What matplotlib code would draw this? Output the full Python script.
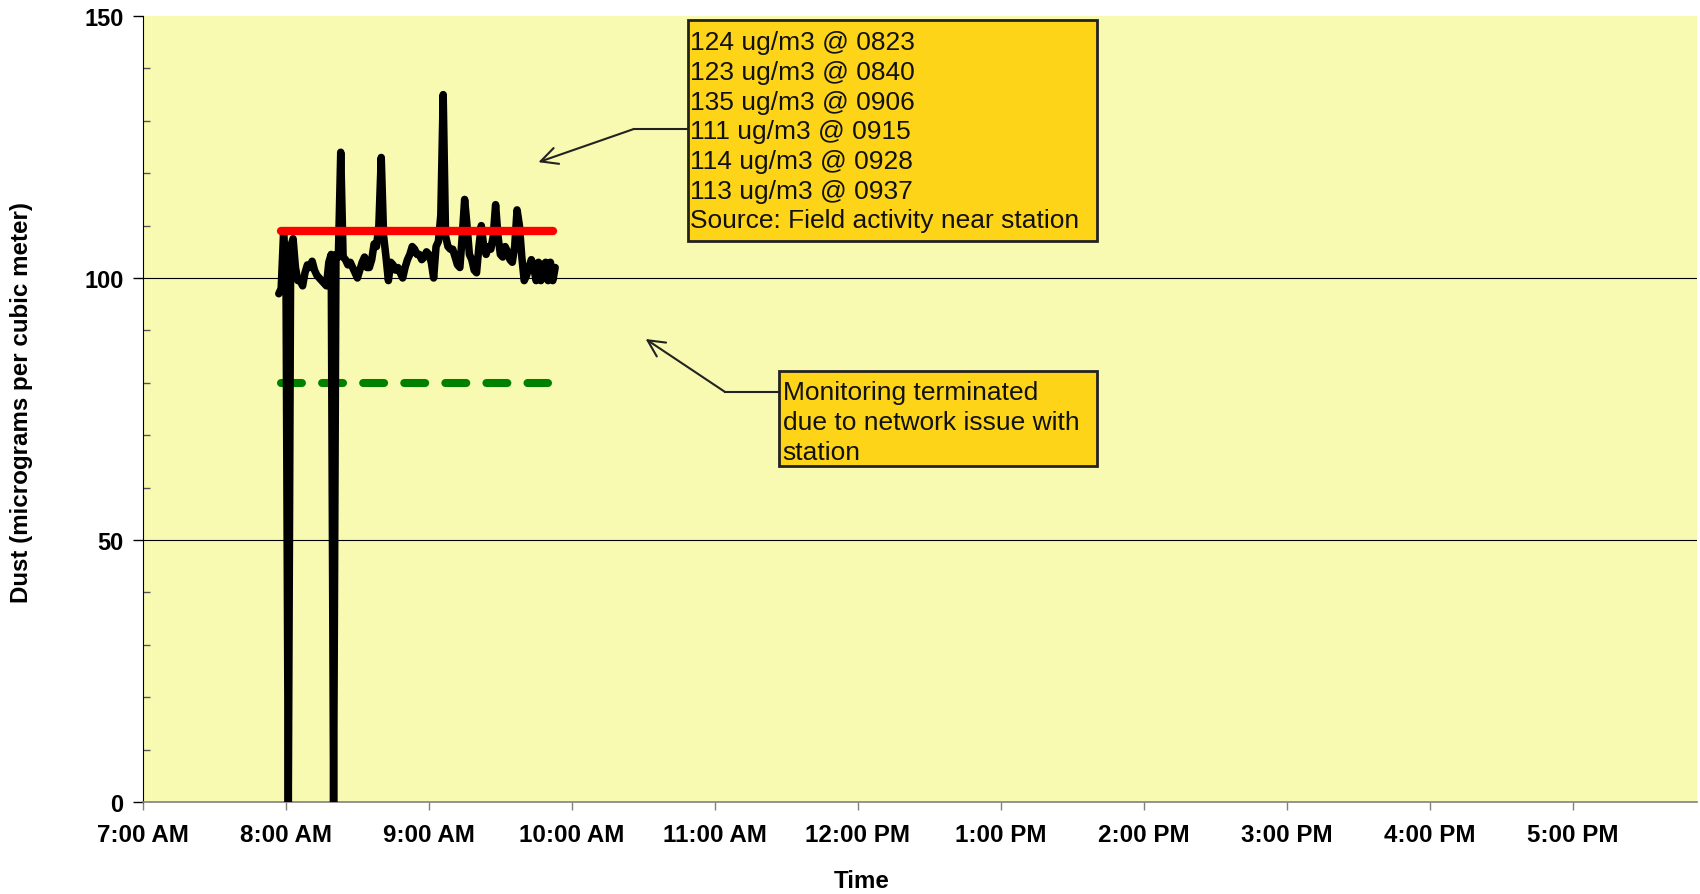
import numpy as np
import pandas as pd
import matplotlib
matplotlib.use('Agg')
from matplotlib import pyplot as plt
from matplotlib.patches import Rectangle

plt.rcParams['font.family'] = ['Liberation Sans', 'DejaVu Sans']

# one-minute dust readings, starting at 7:57 AM
start_time = '07:57'
dust = [97, 98, 108.5, 103, 0, 106, 107.5, 102, 99.5, 99.5,
        98.5, 101, 102.5, 102, 103.2, 101.5, 100.5, 100, 99.5, 99,
        98.5, 103, 104.5, 0, 104.5, 104, 124, 104, 103.5, 102.5,
        103, 102, 101, 100, 101.5, 103, 104, 102, 102, 103.5,
        106.5, 106, 110, 123, 108, 104, 99.5, 103, 102.5, 101.5,
        102, 101, 100, 102, 103.5, 104.5, 106, 105.5, 104.5, 104.5,
        103.5, 104, 105, 104.5, 103, 100, 106, 107, 112, 135,
        108, 106, 105.5, 105.5, 104, 102.5, 102, 108, 115, 110,
        104.5, 103.5, 101.5, 101, 106, 110, 106, 104.5, 106, 105.5,
        108, 114, 108, 104.5, 104, 106, 105, 103.5, 103, 106,
        113, 110, 104, 99.5, 100.5, 102, 103.5, 102, 99.5, 103,
        99.5, 102.5, 103, 99.5, 103, 99.5, 102]

# reference levels (value, start, end)
red_level = 109
red_span = ['07:58', '09:52']
green_level = 80
green_span = ['07:58', '09:50']

tick_hours = [7, 8, 9, 10, 11, 12, 13, 14, 15, 16, 17]
tick_labels = ['7:00 AM', '8:00 AM', '9:00 AM', '10:00 AM', '11:00 AM', '12:00 PM',
               '1:00 PM', '2:00 PM', '3:00 PM', '4:00 PM', '5:00 PM']

note1 = ('124 ug/m3 @ 0823\n123 ug/m3 @ 0840\n135 ug/m3 @ 0906\n'
         '111 ug/m3 @ 0915\n114 ug/m3 @ 0928\n113 ug/m3 @ 0937\n'
         'Source: Field activity near station')
note2 = 'Monitoring terminated\ndue to network issue with\nstation'


def to_hours(t):
    t = pd.to_datetime(t, format='%H:%M')
    return t.hour + t.minute / 60


times = pd.date_range('2000-01-01 ' + start_time, periods=len(dust), freq='min')
hours = times.hour + times.minute / 60

fig = plt.figure(figsize=(17, 8.95), dpi=100)
ax = fig.add_axes([0.0841, 0.1028, 0.9141, 0.8782])
ax.set_facecolor('#F8FAB2')

ax.set_xlim(7, 17.87)
ax.set_ylim(0, 150)

ax.axhline(50, color='black', lw=0.8, zorder=1)
ax.axhline(100, color='black', lw=0.8, zorder=1)

ax.plot(hours, dust, color='black', lw=5.4, solid_joinstyle='round',
        solid_capstyle='round', zorder=3)
ax.plot([to_hours(t) for t in red_span], [red_level] * 2, color='#FF0000', lw=6,
        solid_capstyle='round', zorder=4)
ax.plot([to_hours(t) for t in green_span], [green_level] * 2, color='#008000', lw=5.8,
        dashes=(2.6, 2.5), dash_capstyle='round', zorder=2)

# annotation boxes
box_color = '#FDD418'
edge = '#222222'
ax.add_patch(Rectangle((10.809, 107.12), 2.865, 42.12, facecolor=box_color,
                       edgecolor=edge, lw=2, zorder=5))
ax.text(10.828, 147.3, note1, fontsize=19, va='top', ha='left',
        linespacing=1.30, color='#111111', zorder=6)
ax.plot([10.809, 10.434], [128.44, 128.44], color=edge, lw=1.5, zorder=5)
ax.annotate('', xy=(9.766, 122.1), xytext=(10.434, 128.44),
            arrowprops=dict(arrowstyle='->', color=edge, lw=1.5,
                            mutation_scale=30, shrinkA=0, shrinkB=0), zorder=5)

ax.add_patch(Rectangle((11.446, 64.12), 2.23, 18.19, facecolor=box_color,
                       edgecolor=edge, lw=2, zorder=5))
ax.text(11.475, 80.5, note2, fontsize=19, va='top', ha='left',
        linespacing=1.30, color='#111111', zorder=6)
ax.plot([11.446, 11.069], [78.3, 78.3], color=edge, lw=1.5, zorder=5)
ax.annotate('', xy=(10.516, 88.36), xytext=(11.069, 78.3),
            arrowprops=dict(arrowstyle='->', color=edge, lw=1.5,
                            mutation_scale=30, shrinkA=0, shrinkB=0), zorder=5)

# axes styling
for s in ['top', 'right']:
    ax.spines[s].set_visible(False)
ax.spines['left'].set_color('black')
ax.spines['bottom'].set_color('#808080')
ax.spines['bottom'].set_linewidth(1.2)

ax.set_yticks([0, 50, 100, 150])
ax.set_yticks(np.arange(0, 151, 10), minor=True)
ax.tick_params(axis='y', which='major', direction='out', length=7, width=1,
               labelsize=17, pad=7)
ax.tick_params(axis='y', which='minor', direction='in', length=5, width=1,
               color='#555555')
ax.set_xticks(tick_hours)
ax.set_xticklabels(tick_labels)
ax.tick_params(axis='x', direction='out', length=6, width=1, color='#808080',
               labelsize=17.4, pad=9)
for lab in ax.get_xticklabels() + ax.get_yticklabels():
    lab.set_fontweight('bold')

ax.set_xlabel('Time', fontsize=17.4, fontweight='bold')
ax.xaxis.set_label_coords(0.4627, -0.0999)
ax.xaxis.label.set_verticalalignment('center')
ax.set_ylabel('Dust (micrograms per cubic meter)', fontsize=17.4, fontweight='bold')
ax.yaxis.set_label_coords(-0.078, 0.51)
ax.yaxis.label.set_verticalalignment('center')

fig.savefig('out.png', dpi=100)
